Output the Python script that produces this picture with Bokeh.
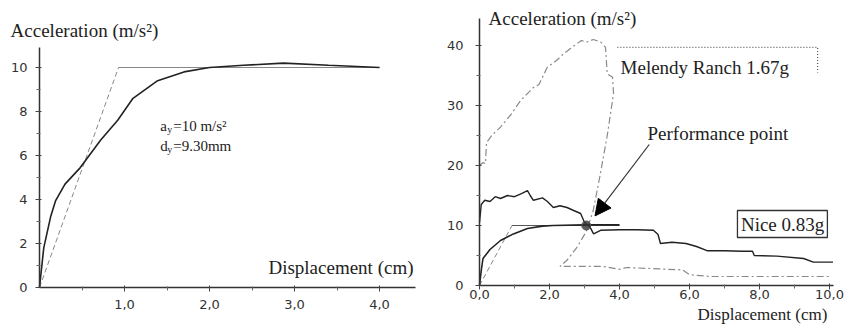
from bokeh.plotting import figure
from bokeh.layouts import row
from bokeh.models import Range1d, FixedTicker, Label, Arrow, NormalHead, LinearAxis
from bokeh.embed import file_html
from bokeh.resources import INLINE

# ---------- left panel: capacity curve and bilinear idealisation ----------
cap_disp = [0.0, 0.05, 0.13, 0.19, 0.30, 0.48, 0.72, 0.92, 1.10, 1.39, 1.70, 2.00, 2.40, 2.87, 3.40, 4.00]
cap_acc = [0.0, 1.8, 3.2, 3.95, 4.7, 5.45, 6.7, 7.6, 8.6, 9.4, 9.8, 10.0, 10.1, 10.2, 10.1, 10.0]

yield_acc = 10.0      # m/s^2
yield_disp = 0.93     # cm (9.30 mm)
bilin_end = 4.0

left_xticks = [1, 2, 3, 4]
left_xminor = [0.5, 1.5, 2.5, 3.5]
left_xlabels = ["1,0", "2,0", "3,0", "4,0"]
left_yticks = [0, 2, 4, 6, 8, 10]
left_yminor = [1, 3, 5, 7, 9]

# ---------- right panel: capacity vs. demand spectra ----------
rcap_disp = [0.0, 0.05, 0.10, 0.30, 0.60, 0.97, 1.37, 1.80, 2.10, 3.00, 4.00]
rcap_acc = [0.0, 2.5, 4.5, 6.0, 7.5, 8.6, 9.5, 9.9, 10.0, 10.1, 10.1]

nice_disp = [0.0, 0.05, 0.15, 0.30, 0.45, 0.60, 0.80, 1.00, 1.20, 1.37, 1.45, 1.54, 1.80, 1.94,
             2.11, 2.30, 2.50, 2.69, 2.89, 3.00, 3.15, 3.26, 3.46, 4.00, 4.50, 4.97, 5.10, 5.17,
             5.50, 5.90, 6.20, 6.50, 7.00, 7.50, 7.80, 7.85, 8.50, 9.26, 9.54, 10.10]
nice_acc = [10.5, 13.5, 14.2, 14.0, 14.8, 14.5, 15.0, 14.8, 15.3, 15.8, 15.0, 14.2, 14.6, 14.0,
            13.0, 13.3, 13.0, 12.5, 12.0, 10.5, 9.8, 8.6, 9.2, 9.3, 9.3, 9.2, 8.5, 7.0,
            7.2, 7.0, 6.5, 5.8, 5.8, 5.7, 5.7, 5.0, 4.9, 4.5, 3.9, 3.9]

mel_disp = [0.0, 0.10, 0.17, 0.20, 0.35, 0.60, 0.90, 1.17, 1.54, 1.70, 1.94, 2.20, 2.40, 2.60,
            2.90, 3.08, 3.25, 3.46, 3.60, 3.65, 3.80, 3.83, 3.65, 3.45, 3.25, 3.05, 2.80, 2.50,
            2.30, 3.50, 4.00, 4.20, 5.80, 6.00, 6.60, 10.00]
mel_acc = [20.0, 20.5, 20.3, 23.8, 25.0, 26.4, 28.5, 30.8, 33.0, 33.5, 36.4, 37.5, 38.6, 39.5,
           40.8, 40.6, 41.0, 40.6, 39.7, 35.3, 34.7, 32.0, 25.0, 18.5, 12.5, 9.0, 6.5, 4.2,
           3.2, 3.2, 2.7, 3.0, 2.6, 1.8, 1.5, 1.5]

perf_disp = 3.05
perf_acc = 10.0

right_xticks = [0, 2, 4, 6, 8, 10]
right_xminor = [1, 3, 5, 7, 9]
right_xlabels = ["0,0", "2,0", "4,0", "6,0", "8,0", "10,0"]
right_yticks = [0, 10, 20, 30, 40]
right_yminor = [5, 15, 25, 35]

SERIF = "Liberation Serif"
TICKFONT = "DejaVu Sans"
BIG = "19px"
SMALL = "15px"


def make_axes(p, xt, xm, xl, xbounds, yt, ym, ybounds, x_standoff, y_standoff):
    """Axes pinned at the origin so the frame can fill the whole canvas."""
    xax = LinearAxis(fixed_location=0, bounds=xbounds,
                     ticker=FixedTicker(ticks=xt, minor_ticks=xm),
                     major_label_overrides={t: l for t, l in zip(xt, xl)})
    yax = LinearAxis(fixed_location=0, bounds=ybounds,
                     ticker=FixedTicker(ticks=yt, minor_ticks=ym))
    for ax in (xax, yax):
        ax.axis_line_color = "#333333"
        ax.axis_line_width = 1.5
        ax.major_tick_line_color = "#444444"
        ax.minor_tick_line_color = "#666666"
        ax.major_tick_in = 2
        ax.major_tick_out = 4
        ax.minor_tick_in = 1
        ax.minor_tick_out = 3
        ax.major_label_text_font = TICKFONT
        ax.major_label_text_font_size = "13px"
        ax.major_label_text_color = "#333333"
    xax.major_label_standoff = x_standoff
    yax.major_label_standoff = y_standoff
    p.add_layout(xax, "below")
    p.add_layout(yax, "left")
    p.grid.visible = False
    p.outline_line_color = None


def add_text(p, x, y, text, size=BIG, align="left", baseline="middle", x_offset=0, y_offset=0):
    p.add_layout(Label(x=x, y=y, text=text, text_font=SERIF, text_font_size=size,
                       text_color="#222222", text_align=align, text_baseline=baseline,
                       x_offset=x_offset, y_offset=y_offset))


def blank_figure(width, x_range, y_range):
    return figure(width=width, height=326, output_backend="svg", toolbar_location=None,
                  x_range=x_range, y_range=y_range, x_axis_location=None, y_axis_location=None,
                  min_border=0, min_border_left=0, min_border_right=0,
                  min_border_top=0, min_border_bottom=0)


# ----- left figure -----
left = blank_figure(420, Range1d(-39 / 85, 381 / 85), Range1d(-39 / 22, 287 / 22))
make_axes(left, left_xticks, left_xminor, left_xlabels, (0, 4.42),
          left_yticks, left_yminor, (0, 10.9), 8, 8)

left.line([0.0, yield_disp], [0.0, yield_acc], line_color="#888888", line_width=1,
          line_dash="5 3")
left.line([yield_disp, bilin_end], [yield_acc, yield_acc], line_color="#888888", line_width=1)
left.line(cap_disp, cap_acc, line_color="#222222", line_width=1.6)

add_text(left, -0.34, 11.68, "Acceleration (m/s²)")
add_text(left, 4.4, 0.9, "Displacement (cm)", align="right")

# yield values with subscripts
add_text(left, 1.42, 7.36, "a", size=SMALL)
add_text(left, 1.42, 7.36, "y", size="10px", x_offset=7, y_offset=-4)
add_text(left, 1.42, 7.36, "=10 m/s²", size=SMALL, x_offset=13)
add_text(left, 1.42, 6.45, "d", size=SMALL)
add_text(left, 1.42, 6.45, "y", size="10px", x_offset=7, y_offset=-4)
add_text(left, 1.42, 6.45, "=9.30mm", size=SMALL, x_offset=13)

# ----- right figure -----
right = blank_figure(425, Range1d(-59 / 35, 366 / 35), Range1d(-41 / 6, 285 / 6))
make_axes(right, right_xticks, right_xminor, right_xlabels, (0, 10.11),
          right_yticks, right_yminor, (0, 44.5), 0, 12)

right.line(mel_disp, mel_acc, line_color="#8a8a8a", line_width=1.2, line_dash="7 3 2 3")
right.line([0.0, yield_disp], [0.0, yield_acc], line_color="#888888", line_width=1,
           line_dash="5 3")
right.line([yield_disp, bilin_end], [yield_acc, yield_acc], line_color="#555555", line_width=1)
right.line(rcap_disp, rcap_acc, line_color="#222222", line_width=1.6)
right.line(nice_disp, nice_acc, line_color="#222222", line_width=1.4)
right.scatter([perf_disp], [perf_acc], size=9, fill_color="#333333", line_color="#555555",
              fill_alpha=0.8)

right.add_layout(Arrow(x_start=4.85, y_start=23.5, x_end=3.3, y_end=11.6,
                       line_color="#333333", line_width=1.2,
                       end=NormalHead(size=16, fill_color="black", line_color="black")))

add_text(right, 0.26, 44.5, "Acceleration (m/s²)")
add_text(right, 9.94, -4.85, "Displacement (cm)", size="17px", align="right")
add_text(right, 4.8, 25.3, "Performance point")

# Melendy Ranch label with dotted frame (top and right edges)
add_text(right, 4.03, 36.3, "Melendy Ranch 1.67g")
right.line([3.94, 9.66, 9.66], [39.7, 39.7, 35.5], line_color="#555555", line_width=1.2,
           line_dash="1 2")

# Nice label in a solid box
right.quad(left=7.37, right=9.94, bottom=8.0, top=12.5, fill_color="white",
           line_color="#333333", line_width=1.3)
add_text(right, 8.66, 10.25, "Nice 0.83g", align="center")

layout = row(left, right)
open("out.html", "w").write(file_html(layout, INLINE))
